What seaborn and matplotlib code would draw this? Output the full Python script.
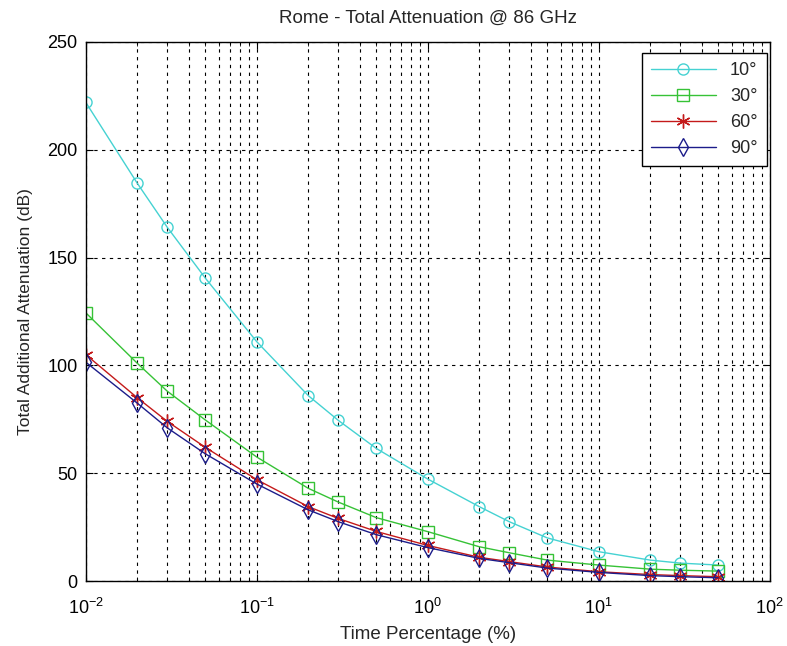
import numpy as np
import pandas as pd
import matplotlib
matplotlib.use("Agg")
import matplotlib.pyplot as plt
import seaborn as sns

# time percentage (%) on a log axis
time_pct = [0.01, 0.02, 0.03, 0.05, 0.1, 0.2, 0.3, 0.5, 1, 2, 3, 5, 10, 20, 30, 50]

# total additional attenuation (dB) per elevation angle
att_10 = [222, 184.5, 164, 140.5, 111, 86, 74.5, 61.5, 47.3, 34.5, 27.5, 20, 13.6, 9.7, 8.3, 7.4]
att_30 = [124.4, 101, 88, 74.7, 57.5, 43, 36.6, 29.4, 22.9, 15.9, 13.1, 9.7, 7.4, 5.5, 5, 4.6]
att_60 = [105, 85, 74, 62, 47, 34.5, 29, 23, 16.5, 11, 9, 6.5, 4.3, 3, 2.5, 2]
att_90 = [101.5, 82.5, 71, 59, 45, 33, 27.5, 21.5, 15.5, 10.5, 8.5, 6, 4, 2.5, 2, 1.5]

labels = ["10°", "30°", "60°", "90°"]
series = [att_10, att_30, att_60, att_90]
colors = ["#45d2d2", "#36c236", "#c41a1a", "#1c1c8a"]
markers = ["o", "s", (6, 2, 0), "d"]
msizes = [8, 8, 10, 9]

sns.set_style("ticks")
plt.rcParams["font.family"] = ["Liberation Sans", "DejaVu Sans"]
plt.rcParams["xtick.direction"] = "in"
plt.rcParams["ytick.direction"] = "in"

fig = plt.figure(figsize=(7.87, 6.46), dpi=100)
ax = fig.add_axes([0.109, 0.1006, 0.869, 0.8344])

for vals, lab, col, mk, ms in zip(series, labels, colors, markers, msizes):
    df = pd.DataFrame({"x": time_pct, "y": vals})
    sns.lineplot(data=df, x="x", y="y", ax=ax, color=col, marker=mk,
                 markersize=ms, markerfacecolor="none",
                 markeredgecolor=col, markeredgewidth=1.0, linewidth=1.0,
                 label=lab)

ax.set_xscale("log")
ax.set_xlim(0.01, 100)
ax.set_ylim(0, 250)
ax.set_yticks([0, 50, 100, 150, 200, 250])

ax.grid(True, which="major", axis="both", color="black", linestyle=(0, (3, 4)), linewidth=0.8)
ax.grid(True, which="minor", axis="x", color="black", linestyle=(0, (3, 4)), linewidth=0.8)

ax.tick_params(which="both", top=True, right=True, labelsize=13, colors="black")
ax.tick_params(axis="x", which="major", pad=12)
ax.tick_params(axis="y", which="major", pad=6)
ax.tick_params(which="major", length=5)
ax.tick_params(which="minor", length=3)
for sp in ax.spines.values():
    sp.set_color("black")
    sp.set_linewidth(1.0)

ax.set_title("Rome - Total Attenuation @ 86 GHz", fontsize=13.5, pad=14)
ax.set_xlabel("Time Percentage (%)", fontsize=13.5, labelpad=6)
ax.set_ylabel("Total Additional Attenuation (dB)", fontsize=12.5, labelpad=10)

leg = ax.legend(loc="upper right", fancybox=False, framealpha=1, edgecolor="black",
                fontsize=13, handlelength=3.6, borderpad=0.5, labelspacing=0.5,
                borderaxespad=0, bbox_to_anchor=(0.9956, 0.9796))
leg.get_frame().set_linewidth(1.0)

fig.savefig("out.png", dpi=100)
